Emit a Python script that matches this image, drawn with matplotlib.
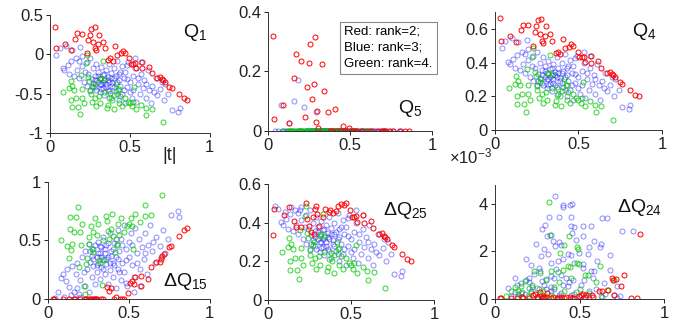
import matplotlib
matplotlib.use('Agg')
import matplotlib.pyplot as plt

plt.rcParams['font.family'] = ['Liberation Sans', 'DejaVu Sans']
plt.rcParams['mathtext.default'] = 'regular'

# |t| of every point, one list per rank
red_t = [0.031, 0.035, 0.093, 0.129, 0.158, 0.168, 0.199, 0.228, 0.237, 0.247,
         0.257, 0.268, 0.278, 0.284, 0.29, 0.297, 0.305, 0.33, 0.342, 0.365,
         0.376, 0.392, 0.409, 0.421, 0.442, 0.456, 0.467, 0.496, 0.506, 0.519,
         0.531, 0.537, 0.573, 0.577, 0.618, 0.635, 0.668, 0.689, 0.699, 0.705,
         0.718, 0.747, 0.761, 0.807, 0.838, 0.859]
blue_t = [0.04, 0.06, 0.08, 0.09, 0.10, 0.11, 0.12, 0.13, 0.14, 0.15,
          0.16, 0.17, 0.18, 0.18, 0.19, 0.20, 0.20, 0.21, 0.22, 0.23,
          0.23, 0.24, 0.25, 0.25, 0.26, 0.27, 0.27, 0.28, 0.28, 0.29,
          0.30, 0.30, 0.31, 0.31, 0.32, 0.32, 0.33, 0.33, 0.34, 0.34,
          0.35, 0.35, 0.36, 0.36, 0.37, 0.37, 0.38, 0.38, 0.39, 0.40,
          0.40, 0.41, 0.42, 0.42, 0.43, 0.43, 0.44, 0.45, 0.45, 0.46,
          0.47, 0.47, 0.48, 0.49, 0.50, 0.51, 0.52, 0.52, 0.53, 0.54,
          0.55, 0.56, 0.57, 0.58, 0.59, 0.60, 0.61, 0.62, 0.63, 0.64,
          0.66, 0.67, 0.69, 0.71, 0.72, 0.74, 0.76, 0.80, 0.81, 0.53,
          0.57, 0.48,
          0.26, 0.28, 0.29, 0.30, 0.31, 0.32, 0.33, 0.34, 0.35, 0.36,
          0.37, 0.38, 0.39, 0.40, 0.41, 0.42, 0.43, 0.44, 0.46, 0.48,
          0.50, 0.55, 0.60, 0.65, 0.70]
green_t = [0.083, 0.118, 0.129, 0.133, 0.135, 0.139, 0.149, 0.174, 0.187, 0.191,
           0.201, 0.197, 0.222, 0.228, 0.237, 0.243, 0.253, 0.263, 0.27, 0.278,
           0.29, 0.305, 0.315, 0.32, 0.332, 0.346, 0.357, 0.363, 0.378, 0.388,
           0.398, 0.415, 0.423, 0.429, 0.44, 0.45, 0.485, 0.498, 0.512, 0.527,
           0.539, 0.598, 0.602, 0.637, 0.705,
           0.16, 0.21, 0.25, 0.28, 0.31, 0.34, 0.37, 0.40, 0.43, 0.47,
           0.52, 0.57]

# Q1
q1_red = [0.35, 0.075, 0.135, 0.06, 0.20, 0.27, 0.26, 0.02, 0.18, 0.25,
          0.32, 0.16, 0.34, 0.08, 0.05, 0.13, 0.25, 0.16, 0.08, -0.07,
          -0.05, -0.08, 0.10, -0.01, 0.01, 0.04, 0.02, -0.05, -0.12, -0.12,
          -0.11, -0.17, -0.10, -0.18, -0.16, -0.24, -0.30, -0.29, -0.32, -0.33,
          -0.35, -0.41, -0.43, -0.50, -0.56, -0.58]
q1_blue = [-0.01, 0.08, -0.17, -0.20, 0.11, -0.14, -0.25, -0.09, 0.06, -0.27,
           -0.05, -0.20, -0.08, -0.30, 0.09, -0.15, -0.02, -0.35, -0.22, -0.40,
           -0.10, -0.25, -0.05, -0.46, -0.31, -0.18, -0.36, -0.27, -0.42, -0.12,
           -0.35, -0.22, -0.48, -0.30, -0.38, -0.16, -0.26, -0.43, -0.33, -0.52,
           -0.20, -0.38, -0.29, -0.45, -0.12, -0.35, -0.24, -0.55, -0.40, -0.30,
           -0.18, -0.47, -0.35, -0.08, -0.25, -0.58, -0.40, -0.15, -0.50, -0.30,
           -0.22, -0.62, -0.42, -0.10, -0.35, -0.55, -0.28, -0.45, -0.18, -0.60,
           -0.38, -0.50, -0.25, -0.43, -0.33, -0.55, -0.20, -0.45, -0.62, -0.40,
           -0.30, -0.52, -0.44, -0.58, -0.38, -0.50, -0.71, -0.73, -0.68, -0.05,
           -0.10, -0.13,
           -0.40, -0.33, -0.45, -0.28, -0.38, -0.44, -0.35, -0.25, -0.42, -0.33,
           -0.47, -0.30, -0.36, -0.42, -0.28, -0.50, -0.33, -0.22, -0.45, -0.32,
           -0.48, -0.30, -0.38, -0.48, -0.35]
q1_green = [-0.48, -0.43, -0.34, -0.58, -0.67, -0.40, -0.45, -0.67, -0.76, -0.26,
            -0.44, -0.55, -0.11, -0.01, -0.29, -0.34, -0.51, -0.60, -0.41, -0.38,
            -0.66, -0.53, -0.32, -0.30, -0.09, -0.32, -0.68, -0.64, -0.49, -0.58,
            -0.70, -0.38, -0.45, -0.44, -0.53, -0.66, -0.60, -0.62, -0.66, -0.41,
            -0.70, -0.68, -0.77, -0.69, -0.86,
            -0.55, -0.62, -0.45, -0.55, -0.62, -0.48, -0.56, -0.52, -0.62, -0.55,
            -0.60, -0.64]

# Q5
q5_red = [0.32, 0.04, 0.087, 0.026, 0.178, 0.258, 0.236, 0.046, 0.147, 0.23,
          0.292, 0.109, 0.158, 0.316, 0.031, 0.067, 0.011, 0.225, 0.135, 0.064,
          0, 0, 0.074, 0, 0, 0.017, 0, 0.009, 0, 0,
          0, 0, 0, 0, 0, 0, 0, 0, 0, 0,
          0, 0, 0, 0, 0, 0]
q5_blue = [0, 0, 0.087, 0, 0, 0, 0, 0.028, 0, 0,
           0.10, 0, 0.172, 0, 0, 0, 0, 0, 0.08, 0,
           0, 0, 0, 0, 0, 0, 0, 0, 0, 0.063] + [0.0] * 87
q5_green = [0.0] * 57

# Q4
q4_red = [0.665, 0.53, 0.56, 0.52, 0.59, 0.625, 0.62, 0.50, 0.58, 0.615,
          0.65, 0.57, 0.66, 0.53, 0.515, 0.555, 0.615, 0.57, 0.53, 0.455,
          0.465, 0.45, 0.54, 0.485, 0.495, 0.51, 0.50, 0.465, 0.43, 0.43,
          0.435, 0.405, 0.44, 0.40, 0.41, 0.37, 0.34, 0.345, 0.33, 0.325,
          0.315, 0.285, 0.275, 0.24, 0.21, 0.20]
q4_blue = [0.485, 0.53, 0.405, 0.39, 0.545, 0.42, 0.365, 0.445, 0.52, 0.355,
           0.465, 0.39, 0.45, 0.34, 0.535, 0.415, 0.48, 0.315, 0.38, 0.29,
           0.44, 0.365, 0.465, 0.26, 0.335, 0.40, 0.31, 0.355, 0.28, 0.43,
           0.315, 0.38, 0.25, 0.34, 0.30, 0.41, 0.36, 0.275, 0.325, 0.23,
           0.39, 0.30, 0.345, 0.265, 0.43, 0.315, 0.37, 0.215, 0.29, 0.34,
           0.40, 0.255, 0.315, 0.45, 0.365, 0.20, 0.29, 0.415, 0.24, 0.34,
           0.38, 0.18, 0.28, 0.44, 0.315, 0.215, 0.35, 0.265, 0.40, 0.19,
           0.30, 0.24, 0.365, 0.275, 0.325, 0.215, 0.39, 0.265, 0.18, 0.29,
           0.34, 0.23, 0.27, 0.20, 0.30, 0.24, 0.135, 0.125, 0.15, 0.465,
           0.44, 0.425,
           0.29, 0.325, 0.265, 0.35, 0.30, 0.27, 0.315, 0.365, 0.28, 0.325,
           0.255, 0.34, 0.31, 0.28, 0.35, 0.24, 0.325, 0.38, 0.265, 0.33,
           0.25, 0.34, 0.30, 0.25, 0.315]
q4_green = [0.25, 0.275, 0.32, 0.20, 0.155, 0.29, 0.265, 0.155, 0.11, 0.36,
            0.27, 0.215, 0.435, 0.485, 0.345, 0.32, 0.235, 0.19, 0.285, 0.30,
            0.16, 0.225, 0.33, 0.34, 0.445, 0.33, 0.15, 0.17, 0.245, 0.20,
            0.14, 0.30, 0.265, 0.27, 0.225, 0.16, 0.19, 0.18, 0.16, 0.285,
            0.14, 0.15, 0.105, 0.145, 0.06,
            0.215, 0.18, 0.265, 0.215, 0.18, 0.25, 0.21, 0.23, 0.18, 0.215,
            0.19, 0.17]

# dQ15
dq15_red = [0, 0, 0, 0, 0, 0, 0, 0, 0, 0,
            0, 0, 0, 0, 0, 0, 0, 0, 0, 0.10,
            0.07, 0.09, 0, 0.02, 0, 0, 0, 0.05, 0.14, 0.15,
            0.13, 0.19, 0.11, 0.20, 0.17, 0.27, 0.32, 0.32, 0.34, 0.37,
            0.38, 0.44, 0.45, 0.54, 0.59, 0.61]
dq15_blue = [0.01, 0.06, 0.18, 0.21, 0.02, 0.15, 0.26, 0.10, 0.03, 0.28,
             0.06, 0.21, 0.09, 0.31, 0.04, 0.16, 0.02, 0.36, 0.23, 0.41,
             0.11, 0.26, 0.06, 0.47, 0.32, 0.19, 0.37, 0.28, 0.43, 0.13,
             0.36, 0.23, 0.49, 0.31, 0.39, 0.17, 0.27, 0.44, 0.34, 0.53,
             0.21, 0.39, 0.30, 0.46, 0.13, 0.36, 0.25, 0.56, 0.41, 0.31,
             0.19, 0.48, 0.36, 0.09, 0.26, 0.59, 0.41, 0.16, 0.51, 0.31,
             0.23, 0.63, 0.43, 0.11, 0.36, 0.56, 0.29, 0.46, 0.19, 0.61,
             0.39, 0.51, 0.26, 0.44, 0.34, 0.56, 0.21, 0.46, 0.63, 0.41,
             0.31, 0.53, 0.45, 0.59, 0.39, 0.51, 0.72, 0.75, 0.70, 0.06,
             0.11, 0.14,
             0.41, 0.34, 0.46, 0.29, 0.39, 0.45, 0.36, 0.26, 0.43, 0.34,
             0.48, 0.31, 0.37, 0.43, 0.29, 0.51, 0.34, 0.23, 0.46, 0.33,
             0.49, 0.31, 0.39, 0.49, 0.36]
dq15_green = [0.50, 0.45, 0.35, 0.60, 0.70, 0.42, 0.47, 0.70, 0.79, 0.27,
              0.46, 0.57, 0.11, 0.04, 0.30, 0.35, 0.53, 0.62, 0.43, 0.40,
              0.69, 0.55, 0.33, 0.31, 0.12, 0.33, 0.71, 0.67, 0.51, 0.60,
              0.73, 0.40, 0.47, 0.46, 0.55, 0.69, 0.62, 0.64, 0.69, 0.43,
              0.73, 0.71, 0.80, 0.72, 0.89,
              0.57, 0.64, 0.47, 0.57, 0.64, 0.50, 0.58, 0.54, 0.64, 0.57,
              0.62, 0.66]

# dQ25 (green reads the same as Q4)
dq25_red = [0.335, 0.47, 0.44, 0.48, 0.41, 0.375, 0.38, 0.50, 0.42, 0.385,
            0.35, 0.43, 0.34, 0.47, 0.485, 0.445, 0.385, 0.43, 0.47, 0.455,
            0.465, 0.45, 0.46, 0.485, 0.495, 0.49, 0.50, 0.465, 0.43, 0.43,
            0.435, 0.405, 0.44, 0.40, 0.41, 0.37, 0.34, 0.345, 0.33, 0.325,
            0.315, 0.285, 0.275, 0.24, 0.21, 0.20]
dq25_blue = [0.485, 0.47, 0.405, 0.39, 0.455, 0.42, 0.365, 0.445, 0.48, 0.355,
             0.465, 0.39, 0.45, 0.34, 0.465, 0.415, 0.48, 0.315, 0.38, 0.29,
             0.44, 0.365, 0.465, 0.26, 0.335, 0.40, 0.31, 0.355, 0.28, 0.43,
             0.315, 0.38, 0.25, 0.34, 0.30, 0.41, 0.36, 0.275, 0.325, 0.23,
             0.39, 0.30, 0.345, 0.265, 0.43, 0.315, 0.37, 0.215, 0.29, 0.34,
             0.40, 0.255, 0.315, 0.45, 0.365, 0.20, 0.29, 0.415, 0.24, 0.34,
             0.38, 0.18, 0.28, 0.44, 0.315, 0.215, 0.35, 0.265, 0.40, 0.19,
             0.30, 0.24, 0.365, 0.275, 0.325, 0.215, 0.39, 0.265, 0.18, 0.29,
             0.34, 0.23, 0.27, 0.20, 0.30, 0.24, 0.135, 0.125, 0.15, 0.465,
             0.44, 0.425,
             0.29, 0.325, 0.265, 0.35, 0.30, 0.27, 0.315, 0.365, 0.28, 0.325,
             0.255, 0.34, 0.31, 0.28, 0.35, 0.24, 0.325, 0.38, 0.265, 0.33,
             0.25, 0.34, 0.30, 0.25, 0.315]
dq25_green = q4_green

# dQ24, in units of 1e-3
dq24_red = [0.04, 0.03, 0.05, 0.02, 0.10, 0.05, 0.03, 0.15, 0.20, 0.08,
            0.03, 0.30, 0.05, 0.10, 0.02, 0.06, 0.25, 0.04, 0.10, 0.05,
            0.03, 0.08, 0.02, 0.06, 0.10, 0.04, 0.03, 0.12, 0.15, 0.20,
            0.08, 0.18, 0.18, 0.10, 0.35, 0.35, 0.39, 0.88, 0.81, 0.18,
            0.84, 0.53, 1.02, 0.04, 0.04, 2.75]
dq24_blue_t = [0.357, 0.404, 0.40, 0.445, 0.455, 0.322, 0.38, 0.449, 0.299, 0.449,
               0.465, 0.518, 0.566, 0.635, 0.66, 0.279, 0.752, 0.816, 0.33, 0.309,
               0.453, 0.518, 0.377, 0.342, 0.39, 0.24, 0.586, 0.629, 0.557, 0.293,
               0.355, 0.43, 0.498, 0.551, 0.68, 0.186, 0.27, 0.313, 0.33, 0.37,
               0.45, 0.469, 0.605, 0.518, 0.211, 0.264, 0.566, 0.586, 0.117, 0.186,
               0.234, 0.33, 0.39, 0.352, 0.459, 0.527, 0.645, 0.078, 0.156, 0.293,
               0.43, 0.508, 0.723, 0.557, 0.703, 0.137, 0.215, 0.39, 0.33, 0.625,
               0.742, 0.273, 0.45, 0.098, 0.13, 0.16, 0.20, 0.25, 0.28, 0.35,
               0.40, 0.48, 0.55, 0.60, 0.65, 0.72, 0.46, 0.18, 0.22, 0.30,
               0.38, 0.42, 0.50, 0.33,
               0.12, 0.20, 0.26, 0.30, 0.36, 0.40, 0.44, 0.48, 0.52, 0.58,
               0.62, 0.68]
dq24_blue = [4.35, 3.94, 3.86, 3.94, 4.0, 3.45, 3.45, 3.45, 3.13, 3.09,
             3.03, 3.06, 3.06, 3.41, 3.41, 2.95, 2.88, 2.85, 2.71, 2.64,
             2.78, 2.64, 2.4, 2.46, 2.29, 2.32, 2.43, 2.32, 2.18, 2.1,
             2.22, 1.9, 1.94, 1.9, 1.87, 1.68, 1.8, 1.9, 1.52, 1.59,
             1.87, 1.52, 1.59, 1.47, 1.42, 1.16, 1.19, 1.19, 0.88, 0.81,
             1.05, 0.95, 1.02, 0.86, 0.81, 0.81, 0.67, 0.46, 0.67, 0.6,
             0.53, 0.58, 0.53, 0.32, 0.18, 0.21, 0.35, 0.25, 0.32, 0.11,
             0.11, 0.11, 0.18, 0.11, 0.6, 0.3, 0.7, 0.45, 0.75, 0.4,
             0.6, 0.3, 0.15, 0.4, 0.2, 0.05, 0.05, 0.2, 0.5, 0.85,
             0.15, 0.9, 0.1, 0.5,
             0.3, 0.9, 1.3, 0.4, 1.25, 1.7, 0.7, 2.5, 1.3, 0.9,
             2.2, 1.2]
dq24_green_t = [0.318, 0.326, 0.44, 0.406, 0.484, 0.49, 0.387, 0.43, 0.443, 0.488,
                0.498, 0.621, 0.535, 0.332, 0.371, 0.234, 0.264, 0.38, 0.60, 0.703,
                0.18, 0.156, 0.117, 0.098, 0.137, 0.199, 0.283, 0.33, 0.41, 0.258,
                0.469, 0.557, 0.635, 0.068, 0.137, 0.195, 0.303, 0.375, 0.215, 0.156,
                0.664, 0.22, 0.26, 0.30, 0.35, 0.40, 0.45, 0.50, 0.55]
dq24_green = [4.07, 2.71, 2.64, 2.26, 2.18, 2.12, 1.94, 1.38, 1.35, 1.52,
              1.47, 1.38, 1.02, 1.19, 1.14, 1.19, 1.09, 0.72, 0.72, 0.81,
              0.74, 0.53, 0.49, 0.32, 0.35, 0.46, 0.35, 0.18, 0.32, 0.18,
              0.21, 0.25, 0.07, 0.11, 0.1, 0.11, 0.11, 0.07, 0.25, 0.25,
              0.39, 0.6, 0.4, 0.8, 0.5, 1.2, 0.9, 0.4, 1.0]


def dots(ax, x, y, col, alpha):
    ax.plot(x, y, linestyle='none', marker='o', markersize=3.6,
            markerfacecolor='none', markeredgecolor=col,
            markeredgewidth=0.7, alpha=alpha)


def style(ax, ylim, yticks, ylabels):
    ax.set_xlim(0, 1)
    ax.set_ylim(*ylim)
    ax.set_xticks([0, 0.5, 1])
    ax.set_xticklabels(['0', '0.5', '1'])
    ax.set_yticks(yticks)
    ax.set_yticklabels(ylabels)
    for s in ['top', 'right']:
        ax.spines[s].set_visible(False)
    for s in ['left', 'bottom']:
        ax.spines[s].set_color('#333333')
        ax.spines[s].set_linewidth(0.7)
    ax.tick_params(direction='out', length=3, width=0.7, labelsize=12,
                   colors='#222222', pad=2)


fig = plt.figure(figsize=(6.77, 3.31), dpi=100)

panels = [
    ([0.074, 0.598, 0.236, 0.357], q1_red, q1_blue, q1_green, red_t, blue_t, green_t,
     (-1, 0.5), [-1, -0.5, 0, 0.5], ['-1', '-0.5', '0', '0.5'],
     'Q$_1$', (0.83, 0.81)),
    ([0.396, 0.604, 0.242, 0.36], q5_red, q5_blue, q5_green, red_t, blue_t, green_t,
     (0, 0.4), [0, 0.2, 0.4], ['0', '0.2', '0.4'],
     'Q$_5$', (0.79, 0.15)),
    ([0.731, 0.607, 0.247, 0.357], q4_red, q4_blue, q4_green, red_t, blue_t, green_t,
     (0, 0.7), [0, 0.2, 0.4, 0.6], ['0', '0.2', '0.4', '0.6'],
     'Q$_4$', (0.82, 0.80)),
    ([0.071, 0.097, 0.239, 0.353], dq15_red, dq15_blue, dq15_green, red_t, blue_t, green_t,
     (0, 1), [0, 0.5, 1], ['0', '0.5', '1'],
     '\u0394Q$_{15}$', (0.71, 0.11)),
    ([0.396, 0.094, 0.245, 0.350], dq25_red, dq25_blue, dq25_green, red_t, blue_t, green_t,
     (0, 0.6), [0, 0.2, 0.4, 0.6], ['0', '0.2', '0.4', '0.6'],
     '\u0394Q$_{25}$', (0.69, 0.73)),
    ([0.731, 0.097, 0.250, 0.344], dq24_red, dq24_blue, dq24_green, red_t, dq24_blue_t, dq24_green_t,
     (0, 4.8), [0, 2, 4], ['0', '2', '4'],
     '\u0394Q$_{24}$', (0.72, 0.76)),
]

for rect, yr, yb, yg, tr, tb, tg, ylim, yt, yl, name, pos in panels:
    ax = fig.add_axes(rect)
    dots(ax, tb, yb, 'blue', 0.45)
    dots(ax, tg, yg, '#00cc00', 0.8)
    dots(ax, tr, yr, 'red', 1.0)
    style(ax, ylim, yt, yl)
    ax.text(pos[0], pos[1], name, transform=ax.transAxes, fontsize=14,
            ha='left', va='baseline', color='#111111')
    if name == 'Q$_1$':
        ax.text(0.75, -0.19, '|t|', transform=ax.transAxes, fontsize=13,
                ha='center', va='center', color='#222222')
    if name == 'Q$_5$':
        ax.text(0.465, 0.885, 'Red: rank=2;\nBlue: rank=3;\nGreen: rank=4.',
                transform=ax.transAxes, fontsize=9.5, ha='left', va='top',
                linespacing=1.45,
                bbox=dict(boxstyle='square,pad=0.3', facecolor='white',
                          edgecolor='#888888', linewidth=0.8))

fig.text(449 / 677, 1 - 163 / 331, '\u00d710$^{-3}$', fontsize=12,
         ha='left', va='baseline', color='#222222')

fig.savefig('out.png', dpi=100)
